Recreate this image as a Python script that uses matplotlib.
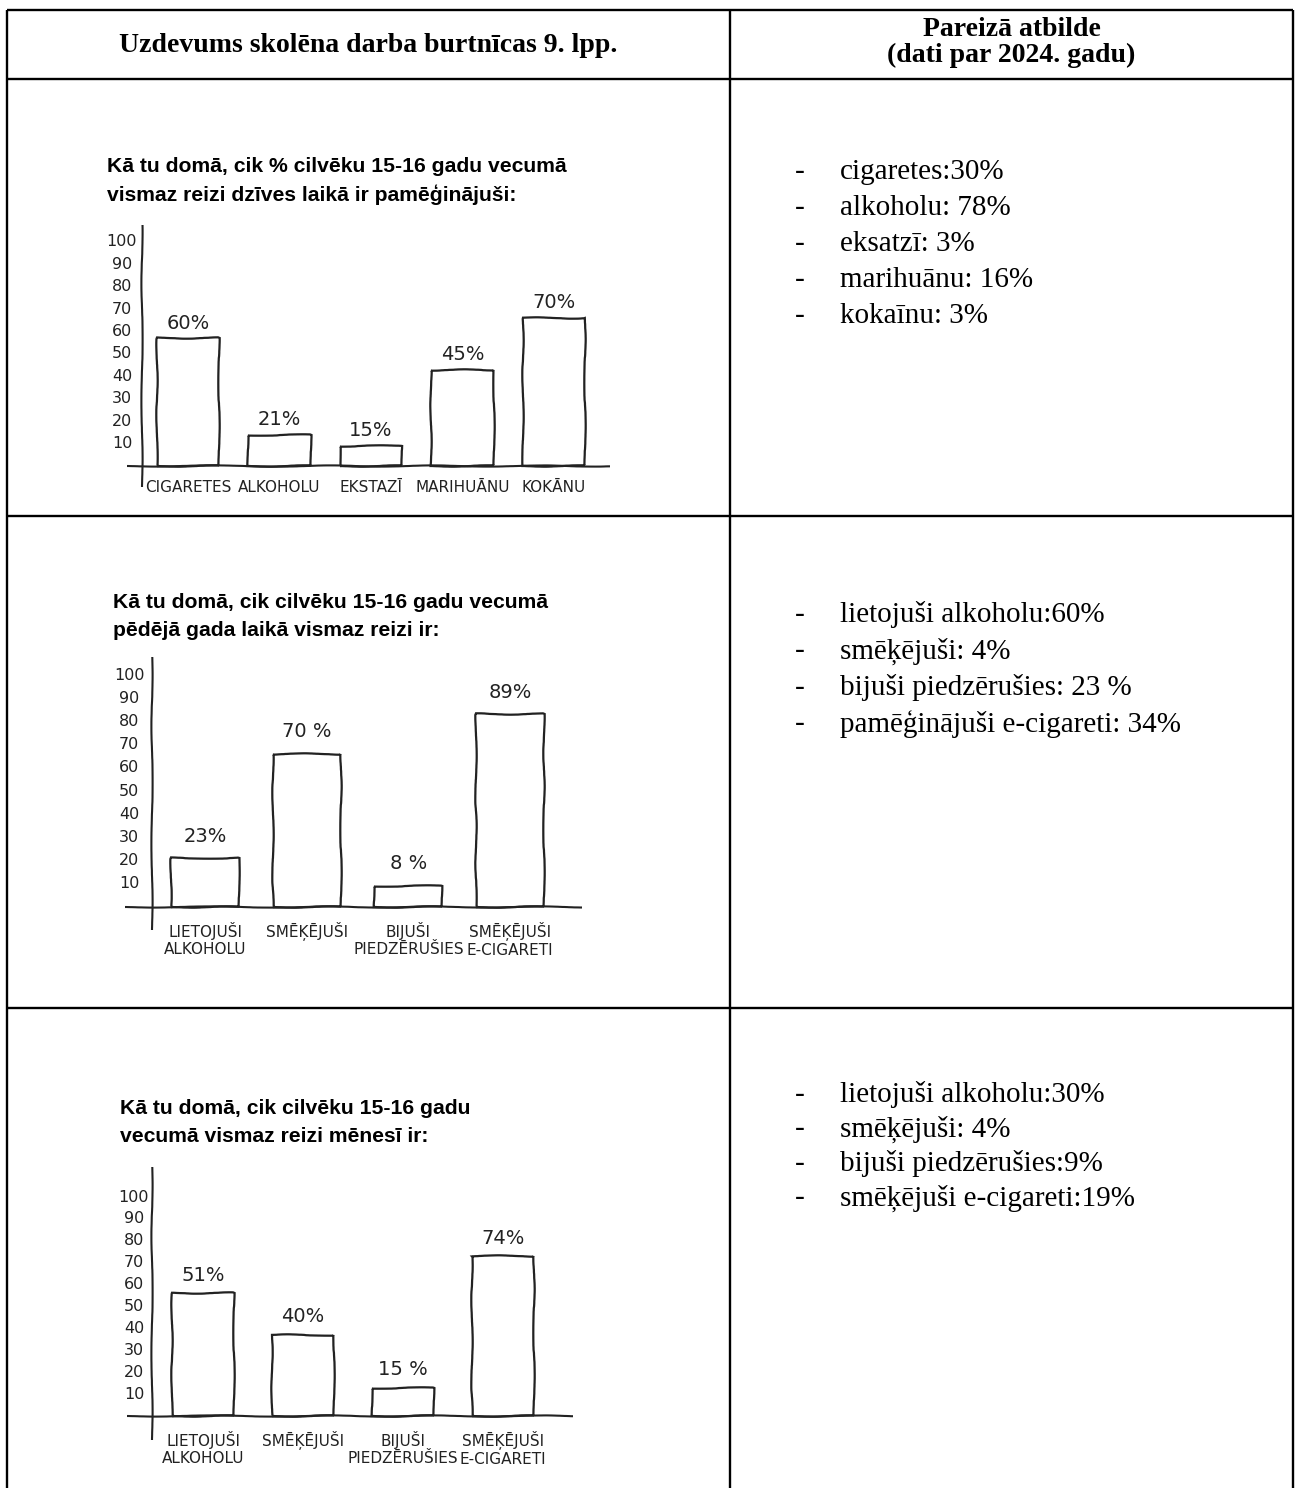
import matplotlib
matplotlib.use('Agg')
import matplotlib.pyplot as plt

W, H = 1295, 1488

# ---------------- data ----------------
header_left = 'Uzdevums skolēna darba burtnīcas 9. lpp.'
header_right = ['Pareizā atbilde', '(dati par 2024. gadu)']

titles = [
    ['Kā tu domā, cik % cilvēku 15-16 gadu vecumā', 'vismaz reizi dzīves laikā ir pamēģinājuši:'],
    ['Kā tu domā, cik cilvēku 15-16 gadu vecumā', 'pēdējā gada laikā vismaz reizi ir:'],
    ['Kā tu domā, cik cilvēku 15-16 gadu', 'vecumā vismaz reizi mēnesī ir:'],
]

cats1 = ['CIGARETES', 'ALKOHOLU', 'EKSTAZĪ', 'MARIHUĀNU', 'KOKĀNU']
heights1 = [57, 14, 9, 43, 66]          # drawn bar heights
labels1 = ['60%', '21%', '15%', '45%', '70%']

cats2 = ['LIETOJUŠI\nALKOHOLU', 'SMĒĶĒJUŠI', 'BIJUŠI\nPIEDZĒRUŠIES', 'SMĒĶĒJUŠI\nE-CIGARETI']
heights2 = [21, 66, 9, 83]
labels2 = ['23%', '70 %', '8 %', '89%']

cats3 = ['LIETOJUŠI\nALKOHOLU', 'SMĒĶĒJUŠI', 'BIJUŠI\nPIEDZĒRUŠIES', 'SMĒĶĒJUŠI\nE-CIGARETI']
heights3 = [56, 37, 13, 73]
labels3 = ['51%', '40%', '15 %', '74%']

yticks = [10, 20, 30, 40, 50, 60, 70, 80, 90, 100]

answers1 = ['cigaretes:30%', 'alkoholu: 78%', 'eksatzī: 3%', 'marihuānu: 16%', 'kokaīnu: 3%']
answers2 = ['lietojuši alkoholu:60%', 'smēķējuši: 4%', 'bijuši piedzērušies: 23 %',
            'pamēģinājuši e-cigareti: 34%']
answers3 = ['lietojuši alkoholu:30%', 'smēķējuši: 4%', 'bijuši piedzērušies:9%',
            'smēķējuši e-cigareti:19%']

# ---------------- layout (pixels) ----------------
col_x = [7, 730, 1293]
row_y = [10, 79, 516, 1008]

charts = [
    dict(cats=cats1, h=heights1, lab=labels1, title=titles[0], tx=107, ty=(167, 195),
         ax_x=142, ax_top=225, ax_bot=487, base=466, x0=127, x1=610, ppu=2.24,
         c0=188, sp=91.5, bw=0.68, tick_x=122, voff=11, coff=10),
    dict(cats=cats2, h=heights2, lab=labels2, title=titles[1], tx=113, ty=(602, 630),
         ax_x=152, ax_top=657, ax_bot=930, base=907, x0=125, x1=582, ppu=2.32,
         c0=205, sp=101.7, bw=0.67, tick_x=129, voff=16, coff=11),
    dict(cats=cats3, h=heights3, lab=labels3, title=titles[2], tx=120, ty=(1108, 1137),
         ax_x=152, ax_top=1167, ax_bot=1440, base=1416, x0=127, x1=573, ppu=2.19,
         c0=203, sp=100, bw=0.62, tick_x=134, voff=13, coff=11),
]
answers = [(answers1, 172, 36), (answers2, 615, 36.3), (answers3, 1095, 34.3)]

serif = 'Liberation Serif'
sans = 'Liberation Sans'
hand = 'DejaVu Sans'
ink = '#222222'

fig = plt.figure(figsize=(W / 100, H / 100), dpi=100)
bg = fig.add_axes([0, 0, 1, 1])
bg.set_xlim(0, W)
bg.set_ylim(H, 0)
bg.axis('off')

# table grid
lw = 1.7
for y in row_y:
    bg.plot([col_x[0], col_x[2]], [y, y], color='black', lw=lw, solid_capstyle='butt')
for x in col_x:
    bg.plot([x, x], [row_y[0], H], color='black', lw=lw, solid_capstyle='butt')

bg.text((col_x[0] + col_x[1]) / 2, 46, header_left, ha='center', va='center',
        family=serif, weight='bold', fontsize=20)
bg.text((col_x[1] + col_x[2]) / 2, 30, header_right[0], ha='center', va='center',
        family=serif, weight='bold', fontsize=20)
bg.text((col_x[1] + col_x[2]) / 2, 55, header_right[1], ha='center', va='center',
        family=serif, weight='bold', fontsize=20)

# answer lists
for items, y0, step in answers:
    for i, s in enumerate(items):
        y = y0 + i * step
        bg.text(795, y, '-', ha='left', va='center', family=serif, fontsize=21)
        bg.text(840, y, s, ha='left', va='center', family=serif, fontsize=21)

# hand drawn charts
for c in charts:
    bg.text(c['tx'], c['ty'][0], c['title'][0], ha='left', va='center',
            family=sans, weight='bold', fontsize=15.2)
    bg.text(c['tx'], c['ty'][1], c['title'][1], ha='left', va='center',
            family=sans, weight='bold', fontsize=15.2)

    left, right = c['x0'], c['x1']
    top, bot = c['ax_top'], c['ax_bot']
    ax = fig.add_axes([left / W, 1 - bot / H, (right - left) / W, (bot - top) / H])
    ax.patch.set_alpha(0)
    ax.set_xlim((left - c['c0']) / c['sp'], (right - c['c0']) / c['sp'])
    ax.set_ylim((c['base'] - bot) / c['ppu'], (c['base'] - top) / c['ppu'])
    ax.axis('off')

    xs = list(range(len(c['h'])))
    bars = ax.bar(xs, c['h'], width=c['bw'], facecolor='white', edgecolor=ink,
                  linewidth=1.6)
    for b in bars:
        b.set_sketch_params(0.7, 110, 4)

    ax_pos = (c['ax_x'] - c['c0']) / c['sp']
    l1 = ax.axhline(0, color=ink, lw=1.5)
    l2 = ax.axvline(ax_pos, color=ink, lw=1.5)
    l1.set_sketch_params(0.6, 140, 3)
    l2.set_sketch_params(0.6, 140, 3)

    tick_pos = (c['tick_x'] - c['c0']) / c['sp']
    for t in yticks:
        ax.text(tick_pos, t, str(t), ha='center', va='center', family=hand,
                fontsize=11.5, color=ink, clip_on=False)

    for x, hgt, lab in zip(xs, c['h'], c['lab']):
        ax.annotate(lab, (x, hgt), xytext=(0, c['voff']), textcoords='offset points',
                    ha='center', va='center', family=hand, fontsize=14,
                    color=ink, annotation_clip=False)

    for x, cat in zip(xs, c['cats']):
        ax.annotate(cat, (x, 0), xytext=(0, -c['coff']), textcoords='offset points',
                    ha='center', va='top', family=hand, fontsize=11,
                    color=ink, linespacing=1.15, annotation_clip=False)

fig.savefig('out.png', dpi=100)
